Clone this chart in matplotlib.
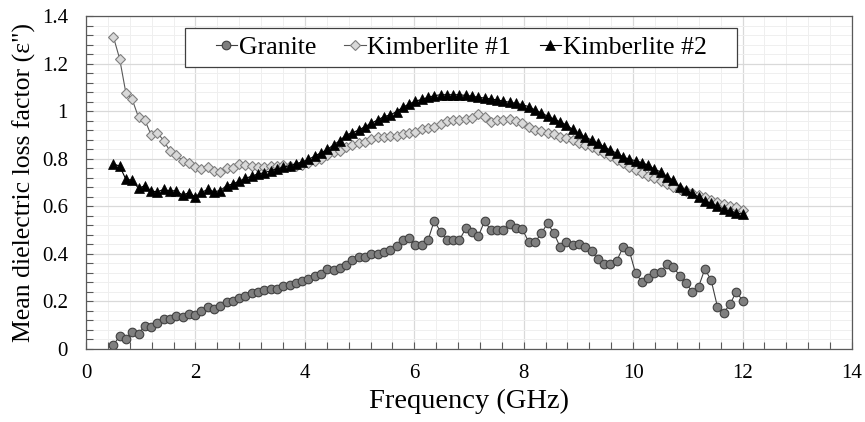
import numpy as np
import matplotlib
matplotlib.use("Agg")
from matplotlib import pyplot as plt
from matplotlib.ticker import MultipleLocator, FormatStrFormatter

plt.rcParams['font.family'] = ['Liberation Serif', 'DejaVu Serif']

# frequency sweep, 101 points from 0.5 to 12 GHz
freq = np.linspace(0.5, 12, 101)

granite = [0.018, 0.053, 0.042, 0.073, 0.064, 0.098, 0.094, 0.108, 0.127, 0.125,
           0.140, 0.133, 0.148, 0.144, 0.160, 0.175, 0.169, 0.181, 0.196, 0.202,
           0.216, 0.223, 0.237, 0.240, 0.247, 0.251, 0.254, 0.264, 0.268, 0.276,
           0.286, 0.294, 0.307, 0.315, 0.335, 0.332, 0.342, 0.354, 0.375, 0.387,
           0.388, 0.398, 0.401, 0.408, 0.417, 0.432, 0.460, 0.468, 0.437, 0.437,
           0.457, 0.539, 0.493, 0.458, 0.458, 0.458, 0.507, 0.490, 0.474, 0.538,
           0.499, 0.500, 0.502, 0.527, 0.510, 0.503, 0.451, 0.448, 0.486, 0.528,
           0.488, 0.429, 0.448, 0.436, 0.440, 0.429, 0.411, 0.378, 0.357, 0.357,
           0.371, 0.427, 0.413, 0.318, 0.283, 0.300, 0.321, 0.325, 0.356, 0.345,
           0.308, 0.276, 0.241, 0.261, 0.336, 0.290, 0.178, 0.153, 0.188, 0.241,
           0.203]

kimb1 = [1.313, 1.220, 1.075, 1.049, 0.974, 0.963, 0.900, 0.909, 0.876, 0.832,
         0.815, 0.792, 0.783, 0.764, 0.758, 0.766, 0.747, 0.745, 0.760, 0.761,
         0.776, 0.775, 0.771, 0.766, 0.766, 0.771, 0.771, 0.775, 0.769, 0.769,
         0.773, 0.783, 0.792, 0.799, 0.815, 0.827, 0.832, 0.850, 0.858, 0.865,
         0.871, 0.881, 0.890, 0.892, 0.895, 0.895, 0.903, 0.909, 0.914, 0.923,
         0.930, 0.935, 0.944, 0.960, 0.963, 0.963, 0.965, 0.970, 0.986, 0.974,
         0.955, 0.963, 0.962, 0.965, 0.958, 0.949, 0.935, 0.921, 0.918, 0.909,
         0.904, 0.892, 0.886, 0.879, 0.867, 0.858, 0.848, 0.837, 0.825, 0.811,
         0.794, 0.781, 0.764, 0.752, 0.739, 0.727, 0.718, 0.707, 0.694, 0.682,
         0.671, 0.664, 0.657, 0.647, 0.638, 0.626, 0.619, 0.609, 0.601, 0.596,
         0.584]

kimb2 = [0.778, 0.769, 0.713, 0.710, 0.675, 0.687, 0.664, 0.661, 0.671, 0.664,
         0.666, 0.647, 0.657, 0.640, 0.658, 0.671, 0.661, 0.666, 0.687, 0.694,
         0.706, 0.717, 0.727, 0.736, 0.741, 0.750, 0.757, 0.764, 0.771, 0.778,
         0.787, 0.797, 0.811, 0.825, 0.839, 0.858, 0.876, 0.900, 0.909, 0.921,
         0.935, 0.949, 0.963, 0.977, 0.984, 0.998, 1.016, 1.030, 1.042, 1.049,
         1.058, 1.065, 1.069, 1.069, 1.069, 1.069, 1.066, 1.063, 1.058, 1.055,
         1.051, 1.047, 1.042, 1.037, 1.033, 1.027, 1.019, 1.005, 0.993, 0.979,
         0.967, 0.955, 0.942, 0.923, 0.907, 0.890, 0.879, 0.865, 0.850, 0.836,
         0.823, 0.808, 0.797, 0.792, 0.783, 0.773, 0.755, 0.745, 0.724, 0.710,
         0.682, 0.668, 0.654, 0.640, 0.623, 0.612, 0.601, 0.587, 0.580, 0.573,
         0.567]

fig = plt.figure(figsize=(8.65, 4.22), dpi=100)
ax = fig.add_axes([86 / 865, 1 - 349 / 422, (852 - 86) / 865, (349 - 16) / 422])

ax.plot(freq, granite, '-o', color='#404040', lw=0.8, ms=6.2,
        mfc='#7f7f7f', mec='#404040', mew=0.8, label='Granite')
ax.plot(freq, kimb1, '-D', color='#595959', lw=0.8, ms=5.2,
        mfc='#d9d9d9', mec='#7f7f7f', mew=0.8, label='Kimberlite #1')
ax.plot(freq, kimb2, '-^', color='black', lw=0.8, ms=6.5,
        mfc='black', mec='black', mew=0.5, label='Kimberlite #2')

ax.set_xlim(0, 14)
ax.set_ylim(0, 1.4)
ax.xaxis.set_major_locator(MultipleLocator(2))
ax.xaxis.set_minor_locator(MultipleLocator(0.4))
ax.yaxis.set_major_locator(MultipleLocator(0.2))
ax.yaxis.set_minor_locator(MultipleLocator(0.04))
ax.yaxis.set_major_formatter(FormatStrFormatter('%g'))
ax.xaxis.set_major_formatter(FormatStrFormatter('%g'))

ax.grid(which='major', color='#d9d9d9', lw=0.9)
ax.grid(which='minor', color='#efefef', lw=0.7)
ax.set_axisbelow(True)
ax.tick_params(which='both', direction='in', length=5, width=0.8, color='#595959')
ax.tick_params(which='both', top=False, right=False)
ax.tick_params(axis='x', labelsize=15, pad=11)
ax.tick_params(axis='y', labelsize=15, pad=13)
for s in ax.spines.values():
    s.set_color('#595959')
    s.set_linewidth(0.9)

ax.set_xlabel('Frequency (GHz)', fontsize=20.5)
ax.set_ylabel('Mean dielectric loss factor (\u03b5")', fontsize=18.5)
ax.xaxis.set_label_coords(0.5, -0.12)
ax.yaxis.set_label_coords(-0.065, 0.5)

leg = ax.legend(loc='upper center', bbox_to_anchor=(0.4896, 0.964), ncol=3,
                fontsize=18.5, frameon=True, fancybox=False, handlelength=0.85,
                handletextpad=0.05, columnspacing=1.1, borderpad=0.3,
                borderaxespad=0, edgecolor='#404040', framealpha=1)
frame = leg.get_frame()
frame.set_linewidth(0.9)
# wider side padding than top/bottom, like the original legend box
frame.set_boxstyle('square', pad=0.9)
frame.set_mutation_aspect(0.02)

fig.savefig('out.png', dpi=100)
